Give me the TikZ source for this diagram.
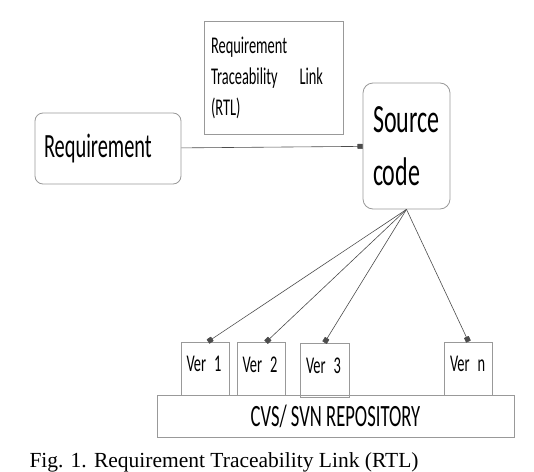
\documentclass[tikz,border=0pt]{standalone}
\usepackage{fontspec}
\setmainfont{Liberation Serif}
\newfontfamily\boxfont[FakeStretch=0.6]{Carlito}
\usetikzlibrary{positioning,arrows}

\begin{document}
\begin{tikzpicture}[x=1pt,y=-1pt, rbox/.style={draw=gray!80,line width=0.8pt,rounded corners=8pt},sbox/.style={draw=gray!80,line width=0.8pt},ver/.style={sbox,minimum width=48pt,minimum height=53pt,text width=37pt,inner xsep=5.5pt,inner ysep=2pt,align=left,text height=20pt,text depth=14pt,font=\boxfont\fontsize{24}{28}\selectfont},link/.style={-square,draw=gray!60!black,line width=0.6pt}]
                      \useasboundingbox (0,0) rectangle (534,471);
                      \node[rbox,minimum width=146pt,minimum height=71pt,text width=128pt,inner xsep=9pt,align=left,font=\boxfont\fontsize{34}{40}\selectfont] (req) at (108,148.5) {Requirement};
                      \node[sbox,minimum width=139pt,minimum height=113pt,text width=125pt,inner xsep=7pt,align=left,font=\boxfont\fontsize{24}{31}\selectfont] (rtl) at (273.5,77.5) {Requirement\\\makebox[112pt][l]{Traceability\hfill Link}\\(RTL)};
                      \node[rbox,rounded corners=10pt,minimum width=87pt,minimum height=126pt,text width=67pt,inner xsep=10pt,align=left,font=\boxfont\fontsize{40}{53}\selectfont] (src) at (406.5,146) {Source\\code};

                      \node[ver] (v1) at (205,368.5) {Ver 1};
                      \node[ver] (v2) at (261,369) {Ver 2};
                      \node[ver,minimum width=49pt,minimum height=54pt] (v3) at (324.5,370) {Ver 3};
                      \node[ver] (vn) at (468.5,368.5) {Ver n};
                      \node[sbox,minimum width=357pt,minimum height=42pt,font=\boxfont\fontsize{31}{36}\selectfont] (repo) at (335.5,416) {CVS/ SVN REPOSITORY};

                      \draw[link] (req) -- (src);
                      \draw[link] (src.south) -- ([xshift=3pt]v1.north);
                      \draw[link] (src.south) -- ([xshift=5pt]v2.north);
                      \draw[link] (src.south) -- (v3.north);
                      \draw[link] (src.south) -- (vn.north);
                      \node[anchor=base west,font=\fontsize{21.5}{26}\selectfont] (cap) at (26,467) {Fig. 1. Requirement Traceability Link (RTL)};
                    \end{tikzpicture}
\end{document}
